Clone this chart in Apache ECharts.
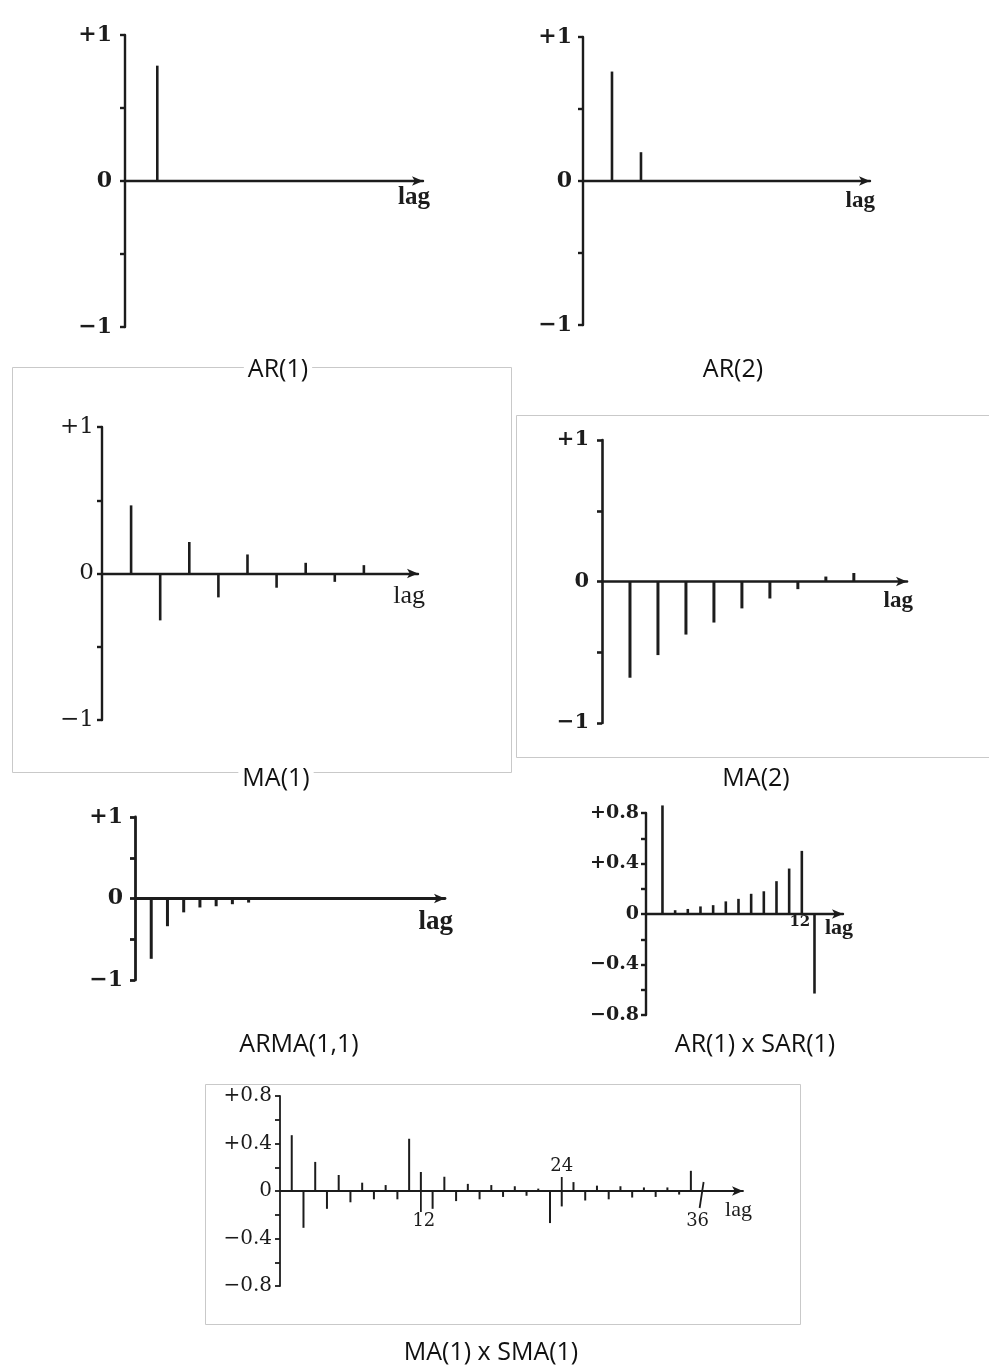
<!DOCTYPE html>
<html>
<head>
<meta charset="utf-8">
<title>Autocorrelation patterns of ARMA-type models</title>
<script src="https://cdn.jsdelivr.net/npm/echarts@6/dist/echarts.min.js"></script>
<style>
  html, body { margin: 0; padding: 0; background: #ffffff; }
  #chart { width: 989px; height: 1367px; }
</style>
</head>
<body>
<div id="chart"></div>
<script>
// ---- correlation coefficients by lag, one pair of arrays per model ----
const ar1Lags = [1];
const ar1Values = [0.79];

const ar2Lags = [1, 2];
const ar2Values = [0.76, 0.2];

const ma1Lags = [1, 2, 3, 4, 5, 6, 7, 8, 9];
const ma1Values = [0.465, -0.32, 0.215, -0.163, 0.13, -0.097, 0.073, -0.057, 0.057];

const ma2Lags = [1, 2, 3, 4, 5, 6, 7, 8, 9];
const ma2Values = [-0.68, -0.52, -0.375, -0.29, -0.19, -0.12, -0.054, 0.035, 0.06];

const arma11Lags = [1, 2, 3, 4, 5, 6, 7];
const arma11Values = [-0.74, -0.34, -0.17, -0.11, -0.095, -0.07, -0.05];

const arSarLags = [1, 2, 3, 4, 5, 6, 7, 8, 9, 10, 11, 12, 13];
const arSarValues = [0.86, 0.03, 0.04, 0.06, 0.07, 0.1, 0.12, 0.16, 0.18, 0.26, 0.36, 0.5, -0.63];

const maSmaLags = [1, 2, 3, 4, 5, 6, 7, 8, 9, 10, 11, 12, 13, 14, 15, 16, 17, 18,
                   19, 20, 21, 22, 23, 24, 25, 26, 27, 28, 29, 30, 31, 32, 33, 34, 35];
const maSmaValues = [0.47, -0.31, 0.245, -0.15, 0.135, -0.095, 0.07, -0.07, 0.05, -0.07,
                     0.44, 0.16, -0.15, 0.12, -0.085, 0.06, -0.07, 0.05, -0.05, 0.04,
                     -0.04, 0.02, -0.27, -0.13, 0.075, -0.08, 0.045, -0.07, 0.04, -0.055,
                     0.03, -0.05, 0.03, -0.03, 0.17];

// ---- tick labels ----
const unitTickValues = [-1, 0, 1];
const unitTickText = ['\u22121', '0', '+1'];
const fineTickValues = [-0.8, -0.4, 0, 0.4, 0.8];
const fineTickText = ['\u22120.8', '\u22120.4', '0', '+0.4', '+0.8'];

// seasonal lags called out on the lag axis
const arSarMarkLags = [12];
const arSarMarkText = ['12'];
const maSmaMarkLags = [12, 24, 36];
const maSmaMarkText = ['12', '24', '36'];

const captions = ['AR(1)', 'AR(2)', 'MA(1)', 'MA(2)', 'ARMA(1,1)', 'AR(1) x SAR(1)', 'MA(1) x SMA(1)'];
const axisTitle = 'lag';

// ---- styling ----
const INK = '#1c1c1c';
const SERIF = '"DejaVu Serif", "Liberation Serif", serif';
const TIMES = '"Liberation Serif", "DejaVu Serif", serif';
const SANS = '"Open Sans", "Noto Sans", sans-serif';

function tickFormatter(values, texts) {
  return function (v) {
    for (let i = 0; i < values.length; i++) {
      if (Math.abs(values[i] - v) < 1e-6) return texts[i];
    }
    return '';
  };
}

function stemRenderer(width) {
  return function (params, api) {
    const lag = api.value(0);
    const r = api.value(1);
    const a = api.coord([lag, 0]);
    const b = api.coord([lag, r]);
    return {
      type: 'line',
      shape: { x1: a[0], y1: a[1], x2: b[0], y2: b[1] },
      style: { stroke: INK, lineWidth: width, lineCap: 'butt' }
    };
  };
}

// lag call-outs: text under (or over) the axis, with an optional leader stroke
function markRenderer(cfg) {
  return function (params, api) {
    const lag = api.value(0);
    const text = cfg.texts[params.dataIndex];
    const base = api.coord([lag, 0]);
    const style = cfg.styles[params.dataIndex] || 'plain';
    const children = [];
    let ty, va, tx = base[0] + (cfg.dx || 0);
    if (style === 'above') {
      ty = base[1] - cfg.gapAbove;
      va = 'bottom';
      children.push({ type: 'line', shape: { x1: base[0], y1: ty + 2, x2: base[0], y2: base[1] },
                      style: { stroke: INK, lineWidth: cfg.leaderWidth } });
    } else if (style === 'slant') {
      ty = base[1] + cfg.gapBelow;
      va = 'top';
      tx = base[0] - 5;
      children.push({ type: 'line', shape: { x1: base[0] - 3, y1: ty - 4, x2: base[0] + 1, y2: base[1] - 9 },
                      style: { stroke: INK, lineWidth: cfg.leaderWidth } });
    } else if (style === 'leader') {
      ty = base[1] + cfg.gapBelow;
      va = 'top';
      tx = base[0] + 3;
      children.push({ type: 'line', shape: { x1: base[0], y1: base[1], x2: base[0], y2: ty },
                      style: { stroke: INK, lineWidth: cfg.leaderWidth } });
    } else {
      ty = base[1] + cfg.gapBelow;
      va = 'top';
    }
    children.push({
      type: 'text',
      style: { text: text, x: tx, y: ty, align: 'center', verticalAlign: va,
               font: cfg.font, fill: INK }
    });
    return { type: 'group', children: children };
  };
}

// layout of the seven panels
const panels = [
  { lags: ar1Lags, values: ar1Values, grid: { left: 125, top: 35, width: 298, height: 292 },
    x: [0, 9.23], y: 'unit', stem: 2.6, axisW: 2.4, labelFont: 'bold', labelSize: 22, labelMargin: 13,
    lagFont: 'bold', lagSize: 25, lagGap: 7, lagPad: 4 },
  { lags: ar2Lags, values: ar2Values, grid: { left: 583, top: 37, width: 287, height: 288 },
    x: [0, 9.9], y: 'unit', stem: 2.6, axisW: 2.4, labelFont: 'bold', labelSize: 22, labelMargin: 11,
    lagFont: 'bold', lagSize: 23, lagGap: 5, lagPad: 9 },
  { lags: ma1Lags, values: ma1Values, grid: { left: 102, top: 427, width: 316, height: 293 },
    x: [0, 10.86], y: 'unit', stem: 2.6, axisW: 2.4, labelFont: 'normal', labelSize: 23, labelMargin: 8,
    lagFont: 'normal', lagSize: 26, lagGap: 7, lagPad: 10 },
  { lags: ma2Lags, values: ma2Values, grid: { left: 602, top: 440, width: 305, height: 283 },
    x: [0, 10.9], y: 'unit', stem: 3, axisW: 2.6, labelFont: 'bold', labelSize: 21, labelMargin: 13,
    lagFont: 'bold', lagSize: 23, lagGap: 6, lagPad: 8 },
  { lags: arma11Lags, values: arma11Values, grid: { left: 135, top: 817, width: 310, height: 163 },
    x: [0, 19.1], y: 'unit', stem: 3, axisW: 2.8, labelFont: 'bold', labelSize: 22, labelMargin: 12,
    lagFont: 'bold', lagSize: 27, lagGap: 8, lagPad: 10 },
  { lags: arSarLags, values: arSarValues, grid: { left: 646, top: 813, width: 197, height: 202 },
    x: [-0.3, 15.25], y: 'fine', stem: 2.6, axisW: 2.4, labelFont: 'bold', labelSize: 19, labelMargin: 7,
    lagFont: 'bold', lagSize: 22, lagGap: 10, lagPad: 3 },
  { lags: maSmaLags, values: maSmaValues, grid: { left: 280, top: 1096, width: 463, height: 190 },
    x: [0, 39.44], y: 'fine', stem: 2, axisW: 1.8, labelFont: 'normal', labelSize: 20, labelMargin: 8,
    lagFont: 'normal', lagSize: 22, lagGap: 9, lagPad: 8 }
];

const grids = [], xAxes = [], yAxes = [], series = [];

panels.forEach(function (p, i) {
  grids.push(Object.assign({ containLabel: false, outerBoundsMode: 'none' }, p.grid));
  const unit = p.y === 'unit';
  xAxes.push({
    type: 'value', gridIndex: i, min: p.x[0], max: p.x[1],
    axisLine: { show: true, onZero: true, symbol: ['none', 'arrow'], symbolSize: [7, 11],
                lineStyle: { color: INK, width: p.axisW } },
    axisTick: { show: false }, axisLabel: { show: false }, splitLine: { show: false },
    name: axisTitle, nameLocation: 'end', nameGap: p.lagGap,
    nameTextStyle: { fontFamily: TIMES, fontWeight: p.lagFont, fontSize: p.lagSize, color: INK,
                     align: 'right', verticalAlign: 'top', padding: [p.lagPad, 0, 0, 0] }
  });
  yAxes.push({
    type: 'value', gridIndex: i,
    min: unit ? -1 : -0.8, max: unit ? 1 : 0.8, interval: unit ? 0.5 : 0.2,
    axisLine: { show: true, onZero: false, lineStyle: { color: INK, width: p.axisW } },
    axisTick: { show: true, inside: false, length: 5, lineStyle: { color: INK, width: p.axisW } },
    axisLabel: {
      show: true, margin: p.labelMargin, showMinLabel: true, showMaxLabel: true,
      fontFamily: SERIF, fontWeight: p.labelFont, fontSize: p.labelSize, color: INK,
      formatter: unit ? tickFormatter(unitTickValues, unitTickText)
                      : tickFormatter(fineTickValues, fineTickText)
    },
    splitLine: { show: false }
  });
  series.push({
    type: 'custom', xAxisIndex: i, yAxisIndex: i, silent: true, clip: false,
    renderItem: stemRenderer(p.stem),
    data: p.lags.map(function (lag, k) { return [lag, p.values[k]]; })
  });
});

// seasonal lag call-outs
series.push({
  type: 'custom', xAxisIndex: 5, yAxisIndex: 5, silent: true, clip: false,
  renderItem: markRenderer({ texts: arSarMarkText, styles: ['plain'], gapBelow: 1, gapAbove: 0, dx: -2,
                             font: 'bold 15px ' + SERIF, leaderWidth: 2 }),
  data: arSarMarkLags.map(function (lag) { return [lag, 0]; })
});
series.push({
  type: 'custom', xAxisIndex: 6, yAxisIndex: 6, silent: true, clip: false,
  renderItem: markRenderer({ texts: maSmaMarkText, styles: ['leader', 'above', 'slant'],
                             gapBelow: 21, gapAbove: 16, font: '18px ' + SERIF, leaderWidth: 1.8 }),
  data: maSmaMarkLags.map(function (lag) { return [lag, 0]; })
});

// panel frames and captions
function frame(x, y, w, h) {
  return { type: 'rect', z: 0, shape: { x: x, y: y, width: w, height: h },
           style: { fill: 'none', stroke: '#c9c9c9', lineWidth: 1 } };
}
const captionPos = [[278, 370], [733, 370], [276, 779], [756, 779], [299, 1045], [755, 1045], [491, 1353]];
const graphics = [
  frame(12.5, 367.5, 499, 405),
  frame(516.5, 415.5, 480, 342),
  frame(205.5, 1084.5, 595, 240)
];
captions.forEach(function (c, i) {
  graphics.push({
    type: 'text', z: 10, x: captionPos[i][0], y: captionPos[i][1],
    style: { text: c, font: '25px ' + SANS, fill: '#111111', align: 'center', verticalAlign: 'middle',
             backgroundColor: '#ffffff', padding: [0, 4] }
  });
});

const chart = echarts.init(document.getElementById('chart'));
chart.setOption({
  animation: false,
  backgroundColor: '#ffffff',
  grid: grids,
  xAxis: xAxes,
  yAxis: yAxes,
  series: series,
  graphic: { elements: graphics }
});
</script>
</body>
</html>
